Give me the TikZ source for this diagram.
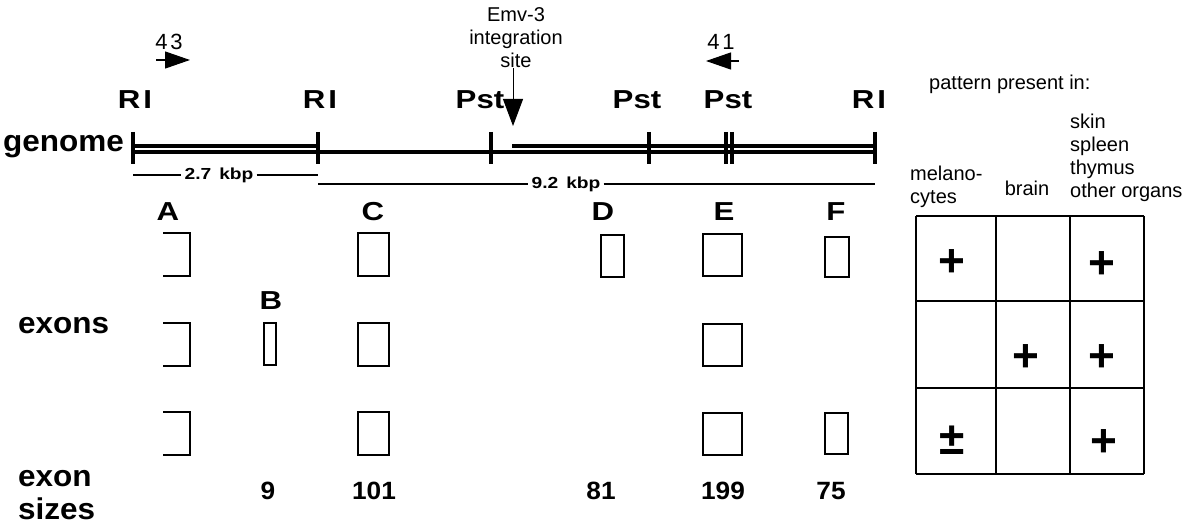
\documentclass[tikz,border=0pt]{standalone}
\usepackage{fontspec}
\setmainfont{Liberation Sans}
\newfontfamily\markfont[FakeStretch=1.2]{Liberation Sans}
\newfontfamily\sidefont[FakeStretch=1.05]{Liberation Sans}
\usetikzlibrary{arrows.meta,positioning}

\begin{document}
\begin{tikzpicture}[x=1pt,y=-1pt,
    site/.style={font=\markfont\fontsize{26}{26}\selectfont\bfseries},
    letter/.style={font=\markfont\fontsize{26}{26}\selectfont\bfseries},
    number/.style={font=\sidefont\fontsize{25}{25}\selectfont\bfseries},
    kbp/.style={font=\markfont\fontsize{16}{16}\selectfont\bfseries,inner sep=3pt},
    side/.style={font=\sidefont\fontsize{30}{30}\selectfont\bfseries,inner sep=0pt},
    note/.style={font=\fontsize{20}{23}\selectfont,inner sep=0pt},
    sign/.style={font=\fontsize{46}{46}\selectfont\bfseries},
    exonbox/.style={line width=2pt},
    grid/.style={line width=2pt},
    primer/.style={line width=1.2pt,-{Triangle[width=17pt,length=25pt]}}]
    \useasboundingbox (0,0) rectangle (1193,529);

    % genome map
    \draw[line width=4pt] (133,152.5) -- (875,152.5);
    \draw[line width=3.5pt] (133,146) -- (318,146);
    \draw[line width=3.5pt] (512,146) -- (875,146);
    \foreach \x [count = \i] in {133,318,491,649,726,732,875}
        \draw[line width=3.5pt] (\x,132) -- (\x,164) coordinate (t\i);

    \node[side,anchor=base west] (genome) at (3,152) {genome};
    \node[site] (ri1) at (135,100) {R\kern3pt I};
    \node[site] (ri2) at (320,100) {R\kern3pt I};
    \node[site] (pst1) at (480,100) {Pst};
    \node[site] (pst2) at (637,100) {Pst};
    \node[site] (pst3) at (728,100) {Pst};
    \node[site] (ri3) at (869,100) {R\kern3pt I};

    \node[note,align=center] (emv) at (516,38) {Emv-3\\integration\\site};
    \coordinate (emvtip) at (513,126);
    \draw[line width=1pt,-{Triangle[width=20pt,length=27pt]}] (emv.south -| emvtip) -- (emvtip);

    \node[note,font=\fontsize{22}{22}\selectfont] (p43) at (169,42) {4\kern3pt 3};
    \coordinate (p43a) at (156,60);
    \coordinate (p43b) at (190,60);
    \draw[primer] (p43a) -- (p43b);
    \node[note,font=\fontsize{22}{22}\selectfont] (p41) at (721,42) {4\kern3pt 1};
    \coordinate (p41a) at (739,61);
    \coordinate (p41b) at (706,61);
    \draw[primer] (p41a) -- (p41b);

    \node[kbp] (kb27) at (219,175) {2.7\enspace kbp};
    \draw[line width=1.5pt] (t1 |- kb27) -- (kb27.west);
    \draw[line width=1.5pt] (kb27.east) -- (t2 |- kb27);
    \node[kbp] (kb92) at (566,184) {9.2\enspace kbp};
    \draw[line width=1.5pt] (t2 |- kb92) -- (kb92.west);
    \draw[line width=1.5pt] (kb92.east) -- (t7 |- kb92);

    % exons
    \foreach \n/\x in {A/168,C/373,D/603,E/724,F/836}
        \node[letter] (col\n) at (\x,212) {\n};
    \node[letter] (colB) at (271,301) {B};

    \node[side,anchor=base west] (exons) at (18,333) {exons};
    \foreach \y in {233,323,412}
    {
        \draw[exonbox] (163,\y) -| (190,\y+43) -- (163,\y+43);
        \draw[exonbox] (358,\y) rectangle (389,\y+43);
        \draw[exonbox] (703,\y+1) rectangle (742,\y+43);
    }
    \draw[exonbox] (264,323) rectangle (276,365);
    \draw[exonbox] (601,235) rectangle (624,277);
    \draw[exonbox] (825,237) rectangle (849,277);
    \draw[line width=1.2pt] (825,413) rectangle (848,454);

    \node[side,anchor=base west] (exon) at (18,486) {exon};
    \node[side,anchor=base west] (sizes) at (18,519) {sizes};
    \foreach \v/\x in {9/268,101/374,81/601,199/723,75/831}
        \node[number] (size\v) at (\x,491) {\v};

    % expression table
    \node[note,anchor=base west] (pattern) at (929,90) {pattern present in:};
    \node[note,anchor=west,align=left] (melano) at (910,187) {melano-\\cytes};
    \node[note] (brain) at (1027,188) {brain};
    \node[note,anchor=west,align=left] (organs) at (1070,158) {skin\\spleen\\thymus\\other organs};
    \foreach \x in {916,996,1070,1144}
        \draw[grid] (\x,216) -- (\x,474);
    \foreach \y in {216,301,388,474}
        \draw[grid] (916,\y) -- (1144,\y);
    \node[sign] (m11) at (952,263) {+};
    \node[sign] (m13) at (1102,265) {+};
    \node[sign] (m22) at (1026,358) {+};
    \node[sign] (m23) at (1102,358) {+};
    \node[sign] (m31) at (952,440) {±};
    \node[sign] (m33) at (1104,443) {+};
\end{tikzpicture}
\end{document}
